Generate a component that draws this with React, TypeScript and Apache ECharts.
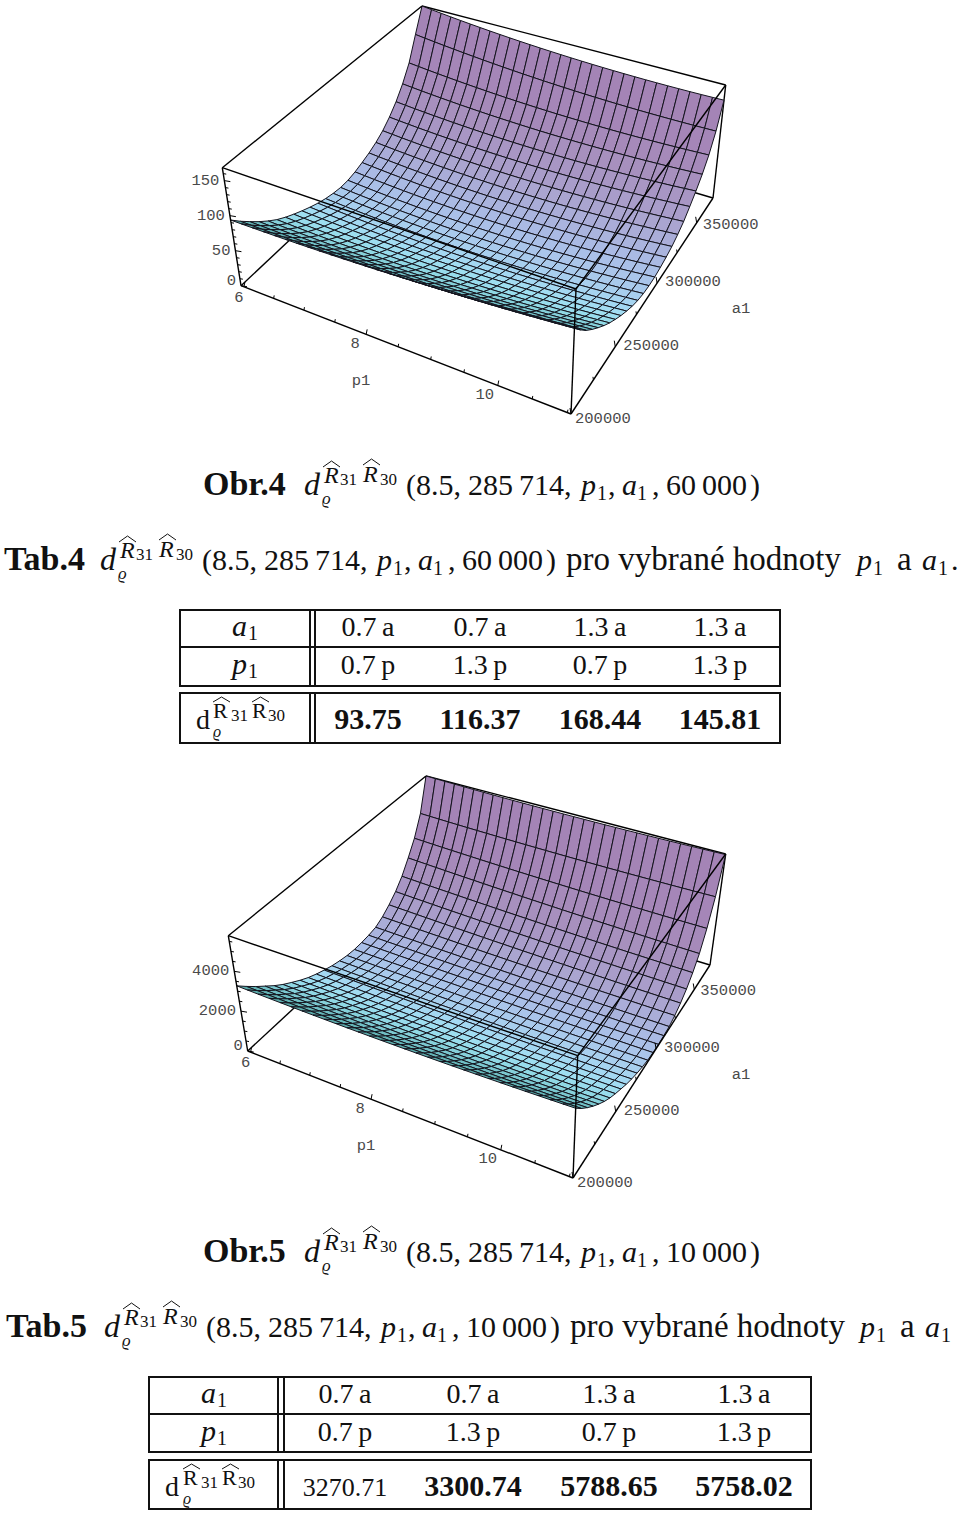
import React, { useEffect, useRef } from "react";
import * as echarts from "echarts";

// ---------- values ----------
const zTicks4 = [0, 50, 100, 150];
const zMinor4 = [10, 20, 30, 40, 60, 70, 80, 90, 110, 120, 130, 140, 160];
const zMax4 = 168.44;
const zTicks5 = [0, 2000, 4000];
const zMinor5 = [500, 1000, 1500, 2500, 3000, 3500, 4500, 5000, 5500];
const zMax5 = 5788.65;
const pTicks = [6, 8, 10];
const pMinor = [6.5, 7, 7.5, 8.5, 9, 9.5, 10.5, 11];
const pMin = 5.95;
const pMax = 11.05;
const aTicks = [200000, 250000, 300000, 350000];
const aMinor = [225000, 275000, 325000];
const aMin = 200000;
const aMax = 371428;

// z along a1 (26 mesh rows, front to back) at p1 = low edge, middle, high edge
const zLow4 = [93.75, 81.5, 70.5, 60, 50.5, 42, 35, 29, 23.5, 18.5, 14, 10.5, 8, 6.5, 7, 9.5, 13.5, 18, 24, 32, 43, 57, 75, 98, 133, 168.44];
const zMid4 = [99.5, 85, 72.5, 61.5, 51, 42, 34, 27, 21, 15, 10, 6, 3, 1.2, 1.3, 3.5, 7, 11, 17, 25, 35.5, 48, 64, 84, 114, 149];
const zHigh4 = [116.37, 101, 88, 77, 67, 57.5, 49, 41.5, 34.5, 28.5, 23, 19, 16.5, 15.5, 15.7, 17.5, 20, 23.5, 29, 36, 46, 57, 70, 87, 111, 145.81];
const zLow5 = [3270.71, 2880, 2510, 2170, 1830, 1530, 1270, 1020, 800, 620, 470, 335, 235, 160, 125, 135, 175, 250, 460, 760, 1130, 1620, 2280, 3020, 4050, 5788.65];
const zMid5 = [3166, 2760, 2390, 2045, 1715, 1425, 1170, 940, 735, 555, 405, 273, 173, 95, 62, 62, 87, 142, 315, 570, 905, 1360, 1970, 2780, 3910, 5673];
const zHigh5 = [3300.74, 2860, 2470, 2110, 1780, 1480, 1220, 1000, 800, 600, 440, 300, 190, 100, 60, 50, 70, 115, 260, 480, 790, 1220, 1800, 2700, 3950, 5758.02];

const headA = ["0.7\u2009a", "0.7\u2009a", "1.3\u2009a", "1.3\u2009a"];
const headP = ["0.7\u2009p", "1.3\u2009p", "0.7\u2009p", "1.3\u2009p"];
const values4 = ["93.75", "116.37", "168.44", "145.81"];
const values5 = ["3270.71", "3300.74", "5788.65", "5758.02"];
const bold5 = [false, true, true, true];

// ---------- geometry and style ----------
const NX = 29;
const NY = 25;
const SERIF = "'Liberation Serif','DejaVu Serif',serif";
const MONO = "'Liberation Mono','DejaVu Sans Mono',monospace";
const palette = ["#5aa8a8", "#64b4b6", "#70bec4", "#7cc8d0", "#86d0da", "#90d8e4", "#98dcec", "#9edef0", "#a2dcf2", "#a4d8f2", "#a6d4f0", "#a8cfee", "#a9caec", "#aac5ea", "#aac0e8", "#aabae4", "#aab4de", "#aaadd8", "#aaa5d0", "#a99dca", "#a896c4", "#a790be", "#a68aba", "#a586b8", "#a484b6"];

type Pt = number[];
interface Box { A: Pt; B: Pt; C: Pt; D: Pt; E: Pt; F: Pt; G: Pt; H: Pt; }
const box4: Box = { A: [222.3, 167.7], B: [422, 6], C: [725.7, 85], D: [576, 289], E: [241, 285.7], F: [571, 414], G: [713, 198], H: [425, 113] };
const box5: Box = { A: [228.3, 935.7], B: [426, 776], C: [725.7, 854], D: [577.7, 1055.7], E: [247.7, 1051], F: [573, 1178], G: [710, 965], H: [431, 881] };

const lerp = (a: Pt, b: Pt, t: number): Pt => [a[0] + (b[0] - a[0]) * t, a[1] + (b[1] - a[1]) * t];
const persP = (t: number) => t / (1 + 0.1 * (1 - t));
const persA = (t: number) => (1.1 * t) / (1 + 0.1 * t);
function project(b: Box, tp: number, ta: number, zf: number): Pt {
  const sp = persP(tp);
  const sa = persA(ta);
  const bottom = lerp(lerp(b.E, b.F, sp), lerp(b.H, b.G, sp), sa);
  const top = lerp(lerp(b.A, b.D, sp), lerp(b.B, b.C, sp), sa);
  return lerp(bottom, top, zf);
}
const tpOf = (p: number) => (p - pMin) / (pMax - pMin);
const taOf = (a: number) => (a - aMin) / (aMax - aMin);

function zAt(low: number[], mid: number[], high: number[], i: number, j: number) {
  const v = (2 * i) / NX - 1;
  return (low[j] * v * (v - 1)) / 2 + mid[j] * (1 - v * v) + (high[j] * v * (v + 1)) / 2;
}

const cells: number[][] = [];
for (let j = NY - 1; j >= 0; j--) for (let i = 0; i < NX; i++) cells.push([i, j]);

function surfaceSeries(b: Box, low: number[], mid: number[], high: number[], zMax: number) {
  return {
    type: "custom", coordinateSystem: "cartesian2d", clip: false, silent: true, z: 2,
    data: cells, encode: { x: 0, y: 1 },
    renderItem: (_: any, api: any) => {
      const i = api.value(0);
      const j = api.value(1);
      const corner = (a: number, c: number) => api.coord(project(b, a / NX, c / NY, zAt(low, mid, high, a, c) / zMax));
      return {
        type: "polygon",
        shape: { points: [corner(i, j), corner(i + 1, j), corner(i + 1, j + 1), corner(i, j + 1)] },
        style: { fill: palette[j], stroke: "#14141e", lineWidth: 1 },
      };
    },
  };
}

function linesSeries(edges: Pt[][], z: number, width = 1.4) {
  return {
    type: "custom", coordinateSystem: "cartesian2d", clip: false, silent: true, z,
    data: edges.map((_, k) => [k, k]), encode: { x: 0, y: 1 },
    renderItem: (_: any, api: any) => {
      const e = edges[api.value(0)];
      const s = api.coord(e[0]);
      const t = api.coord(e[1]);
      return { type: "line", shape: { x1: s[0], y1: s[1], x2: t[0], y2: t[1] }, style: { stroke: "#000", lineWidth: width } };
    },
  };
}

function labelSeries(items: { p: Pt; text: string; dx: number; dy: number; align: string }[]) {
  return {
    type: "custom", coordinateSystem: "cartesian2d", clip: false, silent: true, z: 5,
    data: items.map((_, k) => [k, k]), encode: { x: 0, y: 1 },
    renderItem: (_: any, api: any) => {
      const it = items[api.value(0)];
      const c = api.coord(it.p);
      return {
        type: "text", x: c[0] + it.dx, y: c[1] + it.dy,
        style: { text: it.text, fontFamily: MONO, fontSize: 15.5, fill: "#4a4a4a", align: it.align, verticalAlign: "middle" },
      };
    },
  };
}

const pOffsets = [[-5, 11], [-11, 10], [-13, 9]];
const aOffsets = [[4, 5], [8, -1], [8, -1], [6, 2]];

function plotSeries(b: Box, low: number[], mid: number[], high: number[], zMax: number, zT: number[], zM: number[], pLabel: Pt, aLabel: Pt) {
  const zPt = (z: number) => project(b, 0, 0, z / zMax);
  const pPt = (p: number) => project(b, tpOf(p), 0, 0);
  const aPt = (a: number) => project(b, 1, taOf(a), 0);
  const ticks: Pt[][] = [];
  zT.forEach((z) => { const c = zPt(z); ticks.push([c, [c[0] + 6, c[1] + 1]]); });
  zM.forEach((z) => { const c = zPt(z); ticks.push([c, [c[0] + 3, c[1] + 0.5]]); });
  pTicks.forEach((p) => { const c = pPt(p); ticks.push([c, [c[0] + 1, c[1] - 5]]); });
  pMinor.forEach((p) => { const c = pPt(p); ticks.push([c, [c[0] + 0.5, c[1] - 3]]); });
  aTicks.forEach((a) => { const c = aPt(a); ticks.push([c, [c[0] - 1, c[1] - 6]]); });
  aMinor.forEach((a) => { const c = aPt(a); ticks.push([c, [c[0] - 0.5, c[1] - 3]]); });
  const labels = [
    ...zT.map((z) => ({ p: zPt(z), text: String(z), dx: -5, dy: z === 0 ? -5 : 0, align: "right" })),
    ...pTicks.map((p, k) => ({ p: pPt(p), text: String(p), dx: pOffsets[k][0], dy: pOffsets[k][1], align: "center" })),
    ...aTicks.map((a, k) => ({ p: aPt(a), text: String(a), dx: aOffsets[k][0], dy: aOffsets[k][1], align: "left" })),
    { p: pLabel, text: "p1", dx: 0, dy: 0, align: "center" },
    { p: aLabel, text: "a1", dx: 0, dy: 0, align: "center" },
  ];
  return [
    linesSeries([[b.E, b.H], [b.H, b.G], [b.H, b.B], [b.B, b.C], [b.C, b.G]], 1),
    surfaceSeries(b, low, mid, high, zMax),
    linesSeries([[b.A, b.B], [b.A, b.D], [b.D, b.C], [b.A, b.E], [b.D, b.F], [b.E, b.F], [b.F, b.G]], 3),
    linesSeries(ticks, 3, 1),
    labelSeries(labels),
  ];
}

// ---------- text helpers ----------
const T = (text: string, x: number, base: number, size: number, opt: any = {}) => ({
  type: "text", x, y: base - size * 0.3375, silent: true, z: 10,
  style: { text, fontFamily: SERIF, fontSize: size, fill: "#111", align: opt.align || "left", verticalAlign: "middle", fontStyle: opt.italic ? "italic" : "normal", fontWeight: opt.bold ? "bold" : "normal" },
});
const hat = (x1: number, x2: number, y: number, h = 6) => ({
  type: "polyline", silent: true, z: 10,
  shape: { points: [[x1, y], [(x1 + x2) / 2, y - h], [x2, y]] },
  style: { stroke: "#111", lineWidth: 1, fill: "none" },
});
const L = (x1: number, y1: number, x2: number, y2: number, w = 2) => ({
  type: "line", silent: true, z: 10, shape: { x1, y1, x2, y2 }, style: { stroke: "#111", lineWidth: w },
});

function formula(d: number, y: number, tail: string) {
  return [
    T("d", d - 2, y, 32, { italic: true }),
    T("R", d + 18, y - 12, 24, { italic: true }),
    hat(d + 17, d + 34, y - 28),
    T("31", d + 34, y - 10, 17),
    T("R", d + 57, y - 13, 24, { italic: true }),
    hat(d + 57, d + 74, y - 30),
    T("30", d + 74, y - 10, 17),
    T("ϱ", d + 16, y + 9, 17, { italic: true }),
    T("(8.5,", d + 100, y, 30),
    T("285\u2009714,", d + 162, y, 30),
    T("p", d + 275, y, 30, { italic: true }),
    T("1", d + 291, y + 5, 20),
    T(",", d + 302, y, 30),
    T("a", d + 316, y, 30, { italic: true }),
    T("1", d + 331, y + 5, 20),
    T(",", d + 346, y, 30),
    T(tail, d + 360, y, 30),
    T(")", d + 444, y, 30),
  ];
}

function tableGraphic(x0: number, x1: number, v1: number, v2: number, ys: number[], cols: number[], labelX: number, bases: number[], dx: number[], vals: string[], bold: boolean[]) {
  const [t, m, b, t2, b2] = ys;
  const els: any[] = [
    L(x0, t, x1, t), L(x0, m, x1, m), L(x0, b, x1, b), L(x0, t2, x1, t2), L(x0, b2, x1, b2),
    L(x0, t - 1, x0, b + 1), L(x1, t - 1, x1, b + 1), L(x0, t2 - 1, x0, b2 + 1), L(x1, t2 - 1, x1, b2 + 1),
    L(v1, t, v1, b), L(v2, t, v2, b), L(v1, t2, v1, b2), L(v2, t2, v2, b2),
    T("a", labelX - 11, bases[0], 30, { italic: true }), T("1", labelX + 5, bases[0] + 4, 20),
    T("p", labelX - 11, bases[1], 30, { italic: true }), T("1", labelX + 5, bases[1] + 4, 20),
    T("d", dx[0] - 2, bases[2], 28),
    T("R", dx[1], bases[2] - 11, 22), hat(dx[1], dx[1] + 17, bases[2] - 27, 5),
    T("31", dx[1] + 18, bases[2] - 8, 17),
    T("R", dx[2], bases[2] - 11, 22), hat(dx[2], dx[2] + 17, bases[2] - 27, 5),
    T("30", dx[2] + 16, bases[2] - 8, 17),
    T("ϱ", dx[1], bases[2] + 8, 16, { italic: true }),
  ];
  cols.forEach((c, k) => {
    els.push(T(headA[k], c, bases[0], 28, { align: "center" }));
    els.push(T(headP[k], c, bases[1], 28, { align: "center" }));
    els.push(T(vals[k], c, bases[2], bold[k] ? 30 : 26, { align: "center", bold: bold[k] }));
  });
  return els;
}

const graphicElements: any[] = [
  T("Obr.4", 203, 495, 34, { bold: true }),
  ...formula(306, 495, "60\u2009000"),
  T("Tab.4", 4, 570, 34, { bold: true }),
  ...formula(102, 570, "60\u2009000"),
  T("pro vybrané hodnoty", 566, 570, 33),
  T("p", 857, 570, 30, { italic: true }), T("1", 873, 575, 20),
  T("a", 897, 570, 33),
  T("a", 922, 570, 30, { italic: true }), T("1", 938, 575, 20),
  T(".", 951, 570, 30),
  ...tableGraphic(180, 780, 310, 315, [610, 647, 686, 693, 743], [368, 480, 600, 720], 243, [636, 674, 729], [198, 213, 252], values4, [true, true, true, true]),
  T("Obr.5", 203, 1262, 34, { bold: true }),
  ...formula(306, 1262, "10\u2009000"),
  T("Tab.5", 6, 1337, 34, { bold: true }),
  ...formula(106, 1337, "10\u2009000"),
  T("pro vybrané hodnoty", 570, 1337, 33),
  T("p", 860, 1337, 30, { italic: true }), T("1", 876, 1342, 20),
  T("a", 900, 1337, 33),
  T("a", 925, 1337, 30, { italic: true }), T("1", 941, 1342, 20),
  ...tableGraphic(149, 811, 278, 284, [1377, 1414, 1452, 1460, 1509], [345, 473, 609, 744], 212, [1403, 1441, 1496], [167, 183, 222], values5, bold5),
];

export default function App() {
  const ref = useRef<HTMLDivElement>(null);
  useEffect(() => {
    document.body.style.margin = "0";
    const chart = echarts.init(ref.current!, undefined, { renderer: "svg" });
    chart.setOption({
      animation: false,
      backgroundColor: "#fff",
      grid: { left: 0, right: 0, top: 0, bottom: 0 },
      xAxis: { type: "value", min: 0, max: 960, show: false },
      yAxis: { type: "value", min: 0, max: 1514, inverse: true, show: false },
      graphic: { elements: graphicElements },
      series: [
        ...plotSeries(box4, zLow4, zMid4, zHigh4, zMax4, zTicks4, zMinor4, [361, 381], [741, 309]),
        ...plotSeries(box5, zLow5, zMid5, zHigh5, zMax5, zTicks5, zMinor5, [366, 1146], [741, 1075]),
      ],
    });
    return () => chart.dispose();
  }, []);
  return <div ref={ref} style={{ width: 960, height: 1514 }} />;
}
